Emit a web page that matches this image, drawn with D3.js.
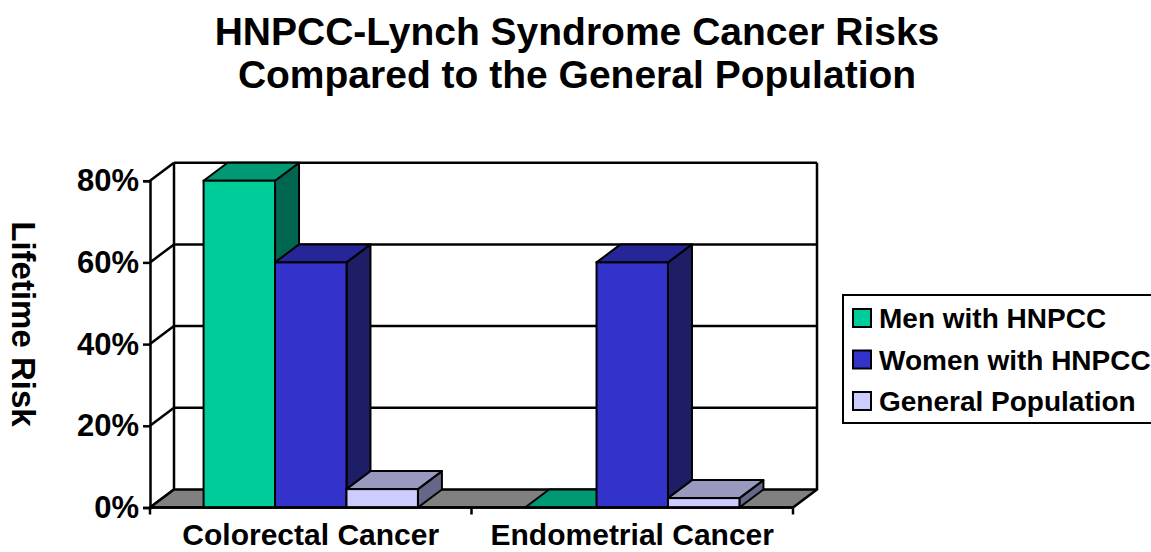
<!DOCTYPE html>
<html>
<head>
<meta charset="utf-8">
<script src="https://cdn.jsdelivr.net/npm/d3@7"></script>
<style>
  html, body { margin: 0; padding: 0; background: #fff; }
  svg { display: block; }
  text { font-family: "Liberation Sans", Arial, sans-serif; font-weight: bold; fill: #000; }
</style>
</head>
<body>
<svg id="chart" width="1151" height="552"></svg>
<script>
// ---- data ----
const categories = ["Colorectal Cancer", "Endometrial Cancer"];
const seriesNames = ["Men with HNPCC", "Women with HNPCC", "General Population"];
const menValues = [80, 0];
const womenValues = [60, 60];
const generalValues = [4.5, 2.3];
const yTicks = [0, 20, 40, 60, 80];
const titleLines = ["HNPCC-Lynch Syndrome Cancer Risks", "Compared to the General Population"];
const yAxisTitle = "Lifetime Risk";

const seriesValues = [menValues, womenValues, generalValues];
const frontColors = ["#00CC99", "#3333CC", "#CCCCFF"];
const topColors = ["#009973", "#262699", "#9999BF"];
const sideColors = ["#006650", "#1E1E66", "#666688"];

const svg = d3.select("#chart");
const DX = 24, DY = -18;

const x = d3.scaleBand().domain(categories).range([150, 793]).padding(0);
const xs = d3.scaleBand().domain(seriesNames).range([0, x.bandwidth()]).paddingInner(0).paddingOuter(0.75);
const y = d3.scaleLinear().domain([0, 80]).range([507.5, 180.7]);

const x0 = x.range()[0], x1 = x.range()[1];

// ---- title ----
svg.selectAll("text.title").data(titleLines).join("text")
  .attr("class", "title")
  .attr("x", 577).attr("y", (d, i) => 45 + i * 43)
  .attr("text-anchor", "middle")
  .style("font-size", "39px")
  .text(d => d);

// ---- back wall & gridlines ----
const walls = svg.append("g");
walls.selectAll("line.grid").data(yTicks.filter(t => t > 0)).join("line")
  .attr("x1", x0 + DX).attr("x2", x1 + DX)
  .attr("y1", d => y(d) + DY).attr("y2", d => y(d) + DY)
  .attr("stroke", "#000").attr("stroke-width", 2.5);
// side wall diagonals
walls.selectAll("line.diag").data(yTicks).join("line")
  .attr("x1", x0).attr("x2", x0 + DX)
  .attr("y1", d => y(d)).attr("y2", d => y(d) + DY)
  .attr("stroke", "#000").attr("stroke-width", 2.5);
// back verticals
[x0 + DX, x1 + DX].forEach(xx => {
  walls.append("line")
    .attr("x1", xx).attr("x2", xx)
    .attr("y1", y(80) + DY).attr("y2", y(0) + DY)
    .attr("stroke", "#000").attr("stroke-width", 2.5);
});

// ---- floor ----
svg.append("polygon")
  .attr("points", [[x0, y(0)], [x1, y(0)], [x1 + DX, y(0) + DY], [x0 + DX, y(0) + DY]].map(p => p.join(",")).join(" "))
  .attr("fill", "#808080").attr("stroke", "#000").attr("stroke-width", 2.5).attr("stroke-linejoin", "round");

// ---- bars ----
const bars = [];
categories.forEach((c, ci) => {
  seriesNames.forEach((s, si) => {
    bars.push({ c, s, si, v: seriesValues[si][ci] });
  });
});
const barG = svg.append("g");
bars.forEach(b => {
  const bx = x(b.c) + xs(b.s), w = xs.bandwidth();
  const yt = y(b.v), yb = y(0);
  const g = barG.append("g");
  g.append("polygon")
    .attr("points", [[bx + w, yt], [bx + w + DX, yt + DY], [bx + w + DX, yb + DY], [bx + w, yb]].map(p => p.join(",")).join(" "))
    .attr("fill", sideColors[b.si]).attr("stroke", "#000").attr("stroke-width", 2).attr("stroke-linejoin", "round");
  g.append("polygon")
    .attr("points", [[bx, yt], [bx + DX, yt + DY], [bx + w + DX, yt + DY], [bx + w, yt]].map(p => p.join(",")).join(" "))
    .attr("fill", topColors[b.si]).attr("stroke", "#000").attr("stroke-width", 2).attr("stroke-linejoin", "round");
  g.append("rect")
    .attr("x", bx).attr("y", yt).attr("width", w).attr("height", yb - yt)
    .attr("fill", frontColors[b.si]).attr("stroke", "#000").attr("stroke-width", 2);
});

// ---- y axis ----
const yAxis = d3.axisLeft(y).tickValues(yTicks).tickSize(7).tickPadding(4).tickFormat(d => d + "%");
const yg = svg.append("g").attr("transform", `translate(${x0},0)`).call(yAxis);
yg.select(".domain").attr("stroke", "#000").attr("stroke-width", 2.5);
yg.selectAll(".tick line").attr("stroke", "#000").attr("stroke-width", 2.5);
yg.selectAll(".tick text")
  .style("font-family", '"Liberation Sans", Arial, sans-serif')
  .style("font-weight", "bold").style("font-size", "31px").attr("fill", "#000");

// ---- x axis ----
const xg = svg.append("g");
xg.append("line").attr("x1", x0).attr("x2", x1).attr("y1", y(0)).attr("y2", y(0))
  .attr("stroke", "#000").attr("stroke-width", 2.5);
const boundaries = categories.map(c => x(c)).concat([x(categories[categories.length - 1]) + x.bandwidth()]);
xg.selectAll("line.tick").data(boundaries).join("line")
  .attr("x1", d => d).attr("x2", d => d).attr("y1", y(0)).attr("y2", y(0) + 7)
  .attr("stroke", "#000").attr("stroke-width", 2.5);
xg.selectAll("text").data(categories).join("text")
  .attr("x", d => x(d) + x.bandwidth() / 2).attr("y", 545)
  .attr("text-anchor", "middle").style("font-size", "30px")
  .text(d => d);

// ---- y axis title ----
svg.append("text")
  .attr("transform", "translate(12,324) rotate(90)")
  .attr("text-anchor", "middle").style("font-size", "33px")
  .text(yAxisTitle);

// ---- legend ----
const lg = svg.append("g");
lg.append("rect").attr("x", 843).attr("y", 295).attr("width", 330).attr("height", 128)
  .attr("fill", "#fff").attr("stroke", "#000").attr("stroke-width", 2);
const items = lg.selectAll("g.item").data(seriesNames).join("g")
  .attr("class", "item")
  .attr("transform", (d, i) => `translate(853,${318 + i * 41.5})`);
items.append("rect").attr("x", 0).attr("y", -9).attr("width", 18).attr("height", 18)
  .attr("fill", (d, i) => frontColors[i]).attr("stroke", "#000").attr("stroke-width", 2);
items.append("text").attr("x", 26).attr("y", 10).style("font-size", "28px").text(d => d);
</script>
</body>
</html>
